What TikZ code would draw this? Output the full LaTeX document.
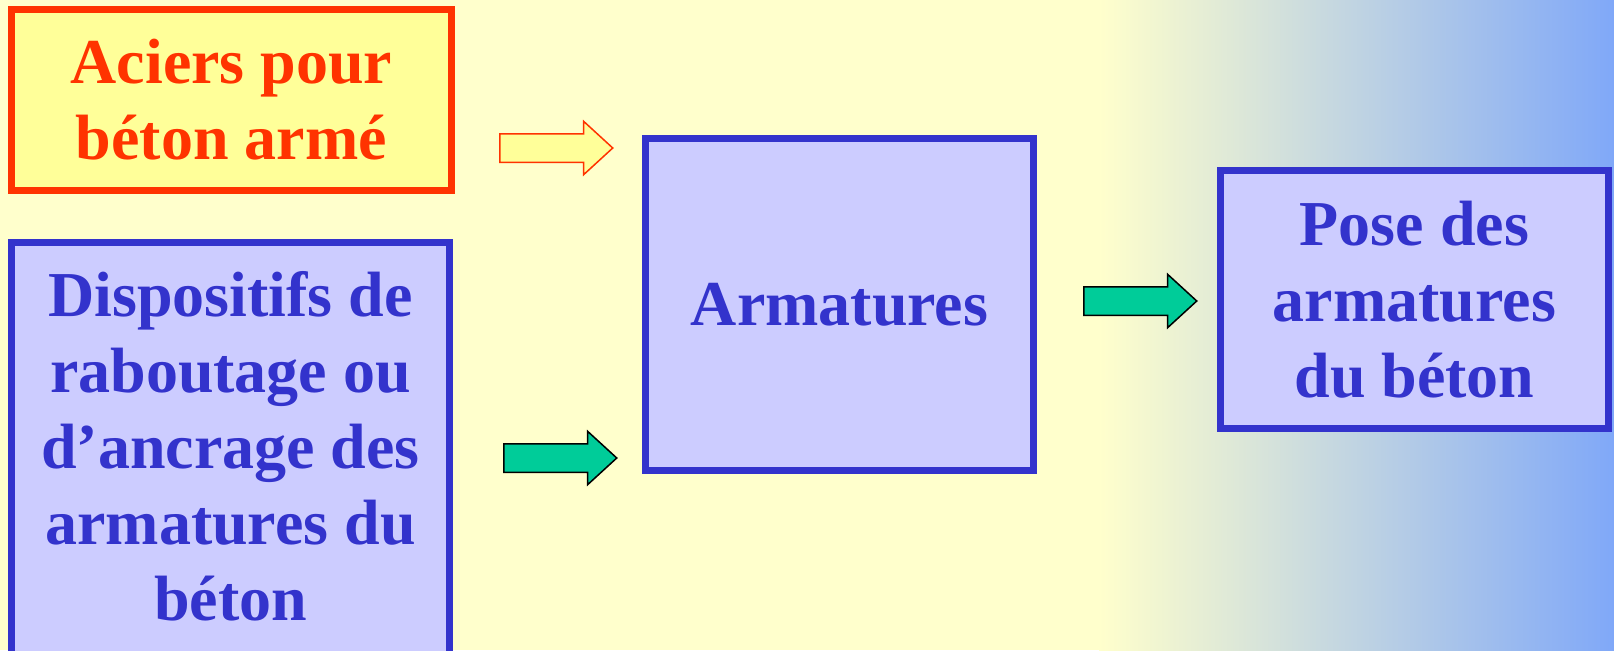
\documentclass[tikz,border=0pt]{standalone}
\usepackage{fontspec}
\setmainfont{Liberation Serif}
\usetikzlibrary{shapes.arrows}
\definecolor{rouge}{HTML}{FF3300}
\definecolor{jaune}{HTML}{FFFF99}
\definecolor{fond}{HTML}{FFFFCC}
\definecolor{bleu}{HTML}{3333CC}
\definecolor{lilas}{HTML}{CCCCFF}
\definecolor{vert}{HTML}{00CC99}
\definecolor{ciel}{HTML}{80A8F8}

\begin{document}
\begin{tikzpicture}[x=0.5pt, y=-0.5pt,
  boite/.style={rectangle, line width=3.5pt, inner sep=0pt, align=center,
    font=\fontsize{32}{38}\selectfont\bfseries},
  fleche/.style={single arrow, line width=0.75pt, inner xsep=0pt, inner ysep=6.75pt,
    single arrow head extend=6.25pt, single arrow tip angle=85,
    minimum height=56.5pt, anchor=tail}]
  \useasboundingbox (0,0) rectangle (1614,650);

  % fond jaune puis degrade vers le bleu
  \fill[fond] (0,0) rectangle (1100,650);
  \shade[left color=fond, right color=ciel] (1099,0) rectangle (1614,650);

  % boites de gauche
  \node[boite, draw=rouge, fill=jaune, text=rouge, minimum width=220pt, minimum height=90.5pt]
    (acier) at (231.5,100) {Aciers pour\\béton armé};
  \node[boite, draw=bleu, fill=lilas, minimum width=219pt, minimum height=238.75pt]
    (dispo) at (230.5,481.25) {};
  \node[boite, text=bleu] (dispotxt) at (230.5,446)
    {Dispositifs de\\raboutage ou\\d’ancrage des\\armatures du\\béton};

  % boites du centre et de droite
  \node[boite, draw=bleu, fill=lilas, text=bleu, minimum width=194pt, minimum height=166pt]
    (armat) at (839.5,304.5) {Armatures};
  \node[boite, draw=bleu, fill=lilas, text=bleu, minimum width=194pt, minimum height=129pt]
    (pose) at (1414.5,299.5) {Pose des\\armatures\\du béton};

  % fleches
  \node[fleche, draw=rouge, fill=jaune] (f1) at (499,148) {};
  \node[fleche, draw=black, fill=vert] (f2) at (503,458) {};
  \node[fleche, draw=black, fill=vert] (f3) at (1083,301) {};
\end{tikzpicture}
\end{document}
